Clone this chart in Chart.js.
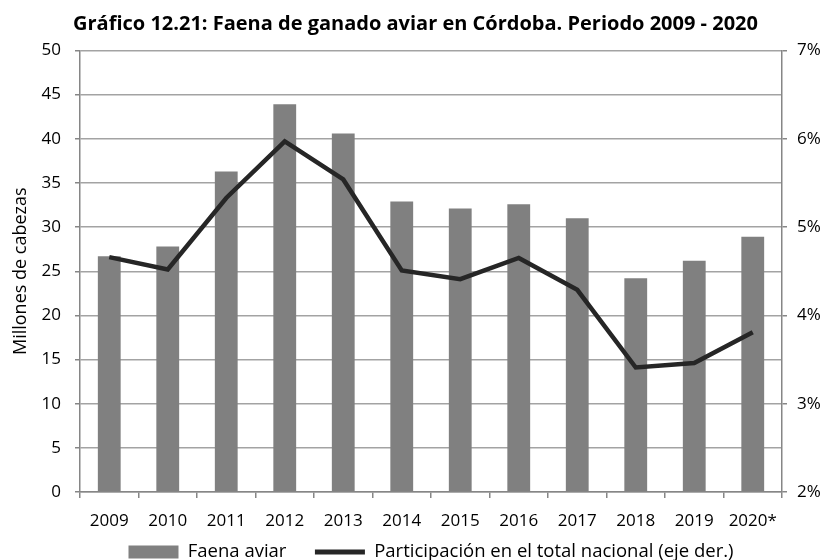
<!DOCTYPE html>
<html>
<head>
<meta charset="utf-8">
<script src="https://cdn.jsdelivr.net/npm/chart.js@4.4.1/dist/chart.umd.min.js"></script>
<style>
	html, body { margin: 0; padding: 0; background: #fff; }
	#wrap { width: 831px; height: 560px; }
</style>
</head>
<body>
<div id="wrap"><canvas id="faena"></canvas></div>
<script>
// Datos
const years = ['2009', '2010', '2011', '2012', '2013', '2014', '2015', '2016', '2017', '2018', '2019', '2020*'];
const faenaAviar = [26.7, 27.8, 36.3, 43.9, 40.6, 32.9, 32.1, 32.6, 31.0, 24.2, 26.2, 28.9];
const participacion = [4.66, 4.52, 5.33, 5.97, 5.54, 4.51, 4.41, 4.65, 4.29, 3.41, 3.46, 3.81];
const leftMin = 0, leftMax = 50, leftStep = 5;
const rightMin = 2, rightMax = 7, rightStep = 1;

const axisColor = '#868686';
const gridColor = '#a3a3a3';
const font = 'Open Sans';

let ctx = document.getElementById('faena').getContext('2d');

// la leyenda se centra bajo el área del gráfico, no bajo todo el lienzo
const legendUnderArea = {
	id: 'legendUnderArea',
	afterLayout: function (chart) {
		if (chart.legend) {
			chart.legend.left = chart.chartArea.left;
			chart.legend.right = chart.chartArea.right;
		}
	}
};

new Chart(ctx, {
	data: {
		labels: years,
		datasets: [
			{
				type: 'bar',
				label: 'Faena aviar',
				data: faenaAviar,
				backgroundColor: '#808080',
				barPercentage: 0.78,
				categoryPercentage: 0.5,
				yAxisID: 'y',
				order: 2
			},
			{
				type: 'line',
				label: 'Participación en el total nacional (eje der.)',
				data: participacion,
				borderColor: '#262626',
				backgroundColor: '#262626',
				borderWidth: 4.5,
				pointRadius: 0,
				tension: 0,
				yAxisID: 'y1',
				order: 1
			}
		]
	},
	plugins: [legendUnderArea],
	options: {
		responsive: true,
		maintainAspectRatio: false,
		animation: false,
		layout: { padding: { left: 0, right: 0, top: 0, bottom: -11.25 } },
		plugins: {
			title: {
				display: true,
				text: 'Gráfico 12.21: Faena de ganado aviar en Córdoba. Periodo 2009 - 2020',
				color: '#000',
				font: { family: font, size: 20, weight: 'bold' },
				padding: { top: 12, bottom: 14.5 }
			},
			legend: {
				position: 'bottom',
				labels: {
					color: '#000',
					font: { family: font, size: 18.5 },
					usePointStyle: true,
					pointStyleWidth: 50,
					boxHeight: 13,
					padding: 10,
					generateLabels: function (chart) {
						let items = Chart.defaults.plugins.legend.labels.generateLabels(chart);
						items.sort((a, b) => a.datasetIndex - b.datasetIndex);
						items.forEach(function (it) {
							if (it.datasetIndex === 0) {
								it.pointStyle = 'rect';
								it.lineWidth = 0;
								it.strokeStyle = '#808080';
								it.text = it.text + '\u2003';
							} else {
								it.pointStyle = 'line';
								it.lineWidth = 5;
							}
						});
						return items;
					}
				}
			},
			tooltip: { enabled: false }
		},
		scales: {
			x: {
				type: 'category',
				offset: true,
				grid: {
					offset: true,
					drawOnChartArea: false,
					drawTicks: true,
					tickLength: 6,
					color: axisColor,
					lineWidth: 1.5
				},
				border: { color: axisColor, width: 1.5 },
				ticks: { color: '#000', font: { family: font, size: 17 }, padding: 13, maxRotation: 0 },
				afterFit: function (scale) { scale.height = 40.75; }
			},
			y: {
				position: 'left',
				min: leftMin,
				max: leftMax,
				ticks: { stepSize: leftStep, color: '#000', font: { family: font, size: 17 }, padding: 14 },
				grid: { color: gridColor, lineWidth: 1.5, tickLength: 5, tickColor: axisColor },
				border: { color: axisColor, width: 1.5 },
				title: {
					display: true,
					text: 'Millones de cabezas',
					color: '#000',
					font: { family: font, size: 18 },
					padding: { top: 10, bottom: 0 }
				},
				afterFit: function (scale) { scale.width = 80; }
			},
			y1: {
				position: 'right',
				min: rightMin,
				max: rightMax,
				ticks: {
					stepSize: rightStep,
					color: '#000',
					font: { family: font, size: 17 },
					padding: 10,
					callback: (v) => v + '%'
				},
				grid: { drawOnChartArea: false, tickLength: 5, color: axisColor, lineWidth: 1.5 },
				border: { color: axisColor, width: 1.5 },
				afterFit: function (scale) { scale.width = 49; }
			}
		}
	}
});
</script>
</body>
</html>
